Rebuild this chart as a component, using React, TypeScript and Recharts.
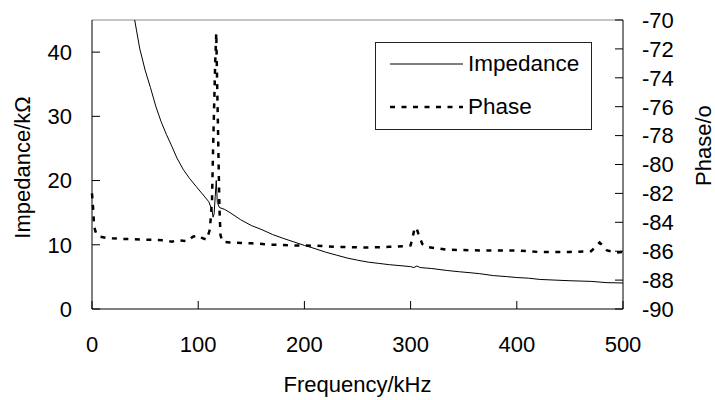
import { Legend, Line, LineChart, ReferenceLine, XAxis, YAxis } from "recharts";

// impedance (kΩ) vs frequency (kHz)
const impFreq = [36, 40, 42, 45, 47, 50, 55, 60, 65, 70, 75, 80, 86, 92, 98, 104, 110, 113, 114, 115, 116, 117, 118, 120, 125, 130, 140, 150, 160, 170, 180, 190, 200, 210, 220, 230, 240, 250, 260, 270, 280, 290, 300, 303, 306, 309, 320, 334, 346, 356, 365, 378, 390, 400, 411, 422, 436, 450, 470, 485, 500];
const impValue = [50, 45.2, 43.3, 40.5, 39.2, 37.2, 34.5, 31.6, 29.2, 27.2, 25.4, 23.5, 21.7, 20.3, 19.1, 17.9, 16.7, 15.4, 14.3, 14.8, 17.5, 20.0, 16.6, 15.8, 15.5, 15.0, 13.9, 13.0, 12.35, 11.6, 11.0, 10.45, 9.9, 9.4, 8.85, 8.4, 7.95, 7.6, 7.3, 7.1, 6.9, 6.75, 6.6, 6.45, 6.7, 6.45, 6.3, 6.0, 5.8, 5.65, 5.5, 5.2, 5.05, 4.9, 4.8, 4.6, 4.5, 4.4, 4.3, 4.1, 4.05];

// phase (deg) vs frequency (kHz)
const phaseFreq = [0, 1, 2, 4, 8, 15, 30, 50, 70, 75, 80, 90, 95, 100, 104, 108, 111, 113, 114, 115, 116, 117, 118, 119, 120, 121, 123, 130, 150, 170, 190, 210, 230, 260, 280, 296, 300, 302, 304, 306, 308, 311, 315, 334, 365, 400, 420, 450, 470, 474, 478, 482, 485, 494, 500];
const phaseValue = [-82.0, -83.0, -84.3, -84.8, -85.0, -85.1, -85.15, -85.2, -85.25, -85.35, -85.25, -85.3, -85.0, -84.9, -85.1, -85.2, -84.5, -82.5, -79, -76, -73, -70.9, -75, -79, -83, -84.9, -85.35, -85.4, -85.45, -85.55, -85.6, -85.62, -85.7, -85.75, -85.7, -85.65, -85.6, -85.0, -84.35, -84.5, -84.95, -85.5, -85.7, -85.9, -85.95, -85.95, -86.05, -86.05, -86.0, -85.7, -85.4, -85.7, -85.95, -86.1, -86.05];

const freqTicks = [0, 100, 200, 300, 400, 500];
const impTicks = [0, 10, 20, 30, 40];
const phaseTicks = [-90, -88, -86, -84, -82, -80, -78, -76, -74, -72, -70];

const impData = impFreq.map((f, i) => ({ f, z: impValue[i] }));
const phaseData = phaseFreq.map((f, i) => ({ f, p: phaseValue[i] }));

const tickStyle = { fill: "#000", fontSize: 22 };

function LegendBox(props: any) {
  const items = props.payload || [];
  return (
    <div style={{ border: "1px solid #222", width: 217, height: 88, boxSizing: "border-box", position: "relative" }}>
      {items.map((it: any, i: number) => (
        <div key={it.value} style={{ position: "absolute", left: 0, top: i === 0 ? 8 : 51, height: 26, display: "flex", alignItems: "center" }}>
          <svg width={92} height={26}>
            <line x1={14} x2={87} y1={13} y2={13} stroke="#000" strokeWidth={it.payload?.strokeWidth || 1} strokeDasharray={it.payload?.strokeDasharray} />
          </svg>
          <span style={{ fontSize: 22.5, color: "#000", lineHeight: "26px" }}>{it.value}</span>
        </div>
      ))}
    </div>
  );
}

export default function App() {
  return (
    <div style={{ position: "absolute", left: 0, top: 0, fontFamily: "'Liberation Sans', Arial, sans-serif", background: "#fff" }}>
      <LineChart width={715} height={400} margin={{ top: 20, right: 0, bottom: 0, left: 0 }}>
        <XAxis
          dataKey="f"
          type="number"
          domain={[0, 500]}
          ticks={freqTicks}
          interval={0}
          height={91}
          tickSize={-8}
          tickMargin={35}
          tick={tickStyle}
          axisLine={{ stroke: "#000" }}
          tickLine={{ stroke: "#000" }}
          label={{ value: "Frequency/kHz", position: "insideBottom", offset: 8, fill: "#000", fontSize: 22 }}
        />
        <YAxis
          yAxisId="left"
          domain={[0, 45]}
          ticks={impTicks}
          interval={0}
          allowDataOverflow
          width={92}
          tickSize={-8}
          tickMargin={28}
          tick={tickStyle}
          axisLine={{ stroke: "#000" }}
          tickLine={{ stroke: "#000" }}
          label={{ value: "Impedance/kΩ", angle: -90, position: "insideLeft", offset: 22, dy: 3, fill: "#000", fontSize: 22, style: { textAnchor: "middle" } }}
        />
        <YAxis
          yAxisId="right"
          orientation="right"
          domain={[-90, -70]}
          ticks={phaseTicks}
          interval={0}
          allowDataOverflow
          width={92}
          tickSize={-8}
          tickMargin={27}
          tick={tickStyle}
          axisLine={{ stroke: "#000" }}
          tickLine={{ stroke: "#000" }}
          label={{ value: "Phase/o", angle: -90, position: "insideRight", offset: 12, dy: -19, fill: "#000", fontSize: 22, style: { textAnchor: "middle" } }}
        />
        <ReferenceLine yAxisId="left" y={45} stroke="#888" />
        <Legend
          layout="vertical"
          align="center"
          verticalAlign="middle"
          wrapperStyle={{ left: 375, top: 42, width: 217, height: 88 }}
          content={LegendBox}
        />
        <Line
          yAxisId="right"
          data={phaseData}
          dataKey="p"
          name="Phase"
          type="linear"
          stroke="#000"
          strokeWidth={2.5}
          strokeDasharray="5 6.5"
          dot={false}
          isAnimationActive={false}
        />
        <Line
          yAxisId="left"
          data={impData}
          dataKey="z"
          name="Impedance"
          type="linear"
          stroke="#000"
          strokeWidth={1}
          dot={false}
          isAnimationActive={false}
        />
      </LineChart>
    </div>
  );
}
